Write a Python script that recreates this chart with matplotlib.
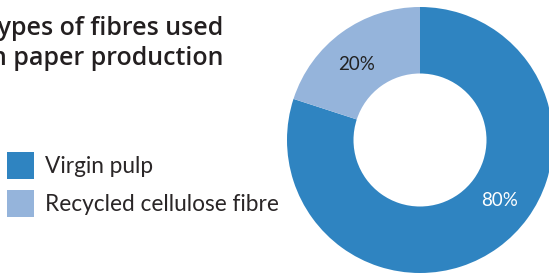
import numpy as np
import matplotlib
matplotlib.use("Agg")
import matplotlib.pyplot as plt

categories = ["Virgin pulp", "Recycled cellulose fibre"]
values = [80, 20]
pct_labels = ["80%", "20%"]
colors = ["#2f84c1", "#95b4db"]
label_colors = ["white", "#222222"]
title = "Types of fibres used\nin paper production"

fig = plt.figure(figsize=(5.49, 2.73), dpi=100)
W, H = 549, 273

ax = fig.add_axes([287 / W, 0 / H, 266 / W, 266 / H])
wedges, _ = ax.pie(values, colors=colors, startangle=90, counterclock=False,
                   radius=1.0, wedgeprops=dict(width=0.5, linewidth=0))
ax.set_xlim(-1, 1)
ax.set_ylim(-1, 1)
ax.set_aspect("equal")
ax.axis("off")

# label positions (angle in degrees, radius)
label_pos = [(-37, 0.75), (130, 0.74)]
for txt, col, (ang, r) in zip(pct_labels, label_colors, label_pos):
    a = np.deg2rad(ang)
    ax.text(r * np.cos(a), r * np.sin(a), txt, color=col, fontsize=13.5,
            ha="center", va="center", family="Lato")

fig.text(-16 / W, 1 - 16 / H, title, fontsize=18, fontweight="semibold",
         family="Open Sans", color="#231f20", ha="left", va="top",
         linespacing=1.26)

leg = fig.legend(wedges, categories, loc="upper left",
                 bbox_to_anchor=(7 / W, 1 - 152 / H),
                 frameon=False, handlelength=1.2, handleheight=1.45,
                 handletextpad=0.48, labelspacing=0.48, borderpad=0.0,
                 borderaxespad=0.0,
                 prop=dict(family="Lato", size=16.3))
for t in leg.get_texts():
    t.set_color("#2a2627")

fig.savefig("out.png", dpi=100)
